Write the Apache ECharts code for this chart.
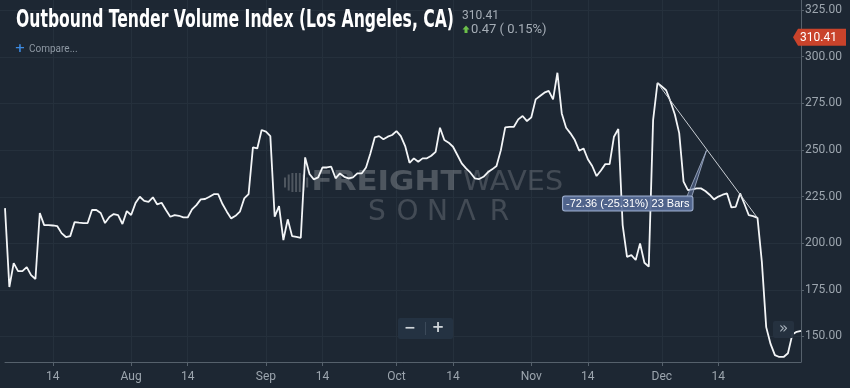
<!DOCTYPE html>
<html><head><meta charset="utf-8">
<script src="https://cdn.jsdelivr.net/npm/echarts@6/dist/echarts.min.js"></script>
<style>html,body{margin:0;padding:0;background:#1d2733;}#c{width:850px;height:388px;}</style>
</head><body><div id="c"></div>
<script>
// ---------- data ----------
const startDate = '2018-07-03';
const monthNames = ['Jan','Feb','Mar','Apr','May','Jun','Jul','Aug','Sep','Oct','Nov','Dec'];
const yTicks = [150, 175, 200, 225, 250, 275, 300, 325];
const values = [
  218.8, 176.5, 189.3, 185, 185, 187.2, 182.9, 180.8, 216.2, 209.7,
  209.7, 209.5, 209.2, 205.4, 203.3, 203.8, 211.3, 211, 210.8, 210.8,
  217.8, 217.8, 216.2, 210.8, 214, 215.6, 215.1, 210.3, 217.2, 215.1,
  221.5, 224.9, 222.7, 222.2, 224.6, 220.8, 221.7, 217.8, 214.2, 215.1,
  214.7, 213.8, 213.8, 218.1, 220.4, 223.5, 223.7, 224.9, 226.3, 226.3,
  221, 216.9, 213.3, 214.7, 216.9, 224, 226.3, 251.4, 250.8, 260.7,
  259.8, 257.4, 214.2, 219.9, 201.7, 212.8, 203.8, 203.4, 202.9, 246,
  237.1, 234.2, 235.3, 240.6, 240.6, 241, 234.8, 237.4, 235.6, 234.8,
  235.3, 237.4, 237.4, 240.6, 248.1, 256.7, 257.4, 255.7, 257.1, 258,
  260.1, 257.4, 252.1, 243.1, 245.5, 243.7, 245.5, 245.5, 246.9, 249,
  261.9, 255.3, 253.9, 251.7, 247.3, 242.8, 240.1, 237.8, 234.8, 234.4,
  235.6, 238, 239.6, 241.4, 249.9, 262.1, 262.4, 262.4, 266.4, 268.2,
  265.5, 267.5, 277.1, 278.9, 280.7, 281.7, 277.1, 291.4, 269.6, 261.9,
  258.9, 255.3, 249.6, 250.8, 245, 241.4, 236, 239, 242.4, 242.4,
  257.1, 261.2, 209.7, 192.7, 193.6, 191, 199.9, 189.5, 187.4, 266,
  285.9, 284, 282, 276, 269, 259, 233, 228.5, 228.9, 229.4,
  229.4, 228, 226, 223.5, 225, 226, 226.7, 219.2, 219.5, 226.7,
  221, 215, 214.5, 213.54, 190, 155, 146, 140, 139, 139,
  141, 151, 152.5, 153
];
const trendStart = 150, trendEnd = 173;
const lastPrice = 310.41;
const titleText = 'Outbound Tender Volume Index (Los Angeles, CA)';
const priceText = '310.41';
const changeText = '0.47 ( 0.15%)';
const compareText = 'Compare...';

// ---------- categories ----------
const dates = [];
const d0 = new Date(startDate + 'T00:00:00Z');
for (let i = 0; i < values.length; i++) {
  dates.push(new Date(d0.getTime() + i * 86400000).toISOString().slice(0, 10));
}
function dayOf(v) { return new Date(v + 'T00:00:00Z').getUTCDate(); }
function isTick(idx, v) { const d = dayOf(v); return (d === 1 || d === 14) && idx < values.length - 3; }
function fmtDate(v) {
  const dt = new Date(v + 'T00:00:00Z');
  return dt.getUTCDate() === 1 ? monthNames[dt.getUTCMonth()] : String(dt.getUTCDate());
}

const chart = echarts.init(document.getElementById('c'), null, {renderer: 'canvas', width: 850, height: 388});
const G = {left: 5, right: 49, top: 0, bottom: 26};
const axisColor = '#56616c';
const labelColor = '#9ca5ae';

chart.setOption({
  backgroundColor: '#1d2733',
  animation: false,
  grid: {left: G.left, right: G.right, top: G.top, bottom: G.bottom, containLabel: false, outerBoundsMode: 'none'},
  xAxis: {
    type: 'category', data: dates, boundaryGap: false,
    axisLine: {show: true, lineStyle: {color: axisColor, width: 1}},
    axisTick: {show: true, interval: isTick, length: 4, lineStyle: {color: axisColor}},
    axisLabel: {interval: isTick, formatter: fmtDate, color: labelColor, fontSize: 12,
      fontFamily: '"Liberation Sans Narrow", Roboto, sans-serif', margin: 9},
    splitLine: {show: true, interval: isTick, lineStyle: {color: '#25303c', width: 1}}
  },
  yAxis: {
    type: 'value', position: 'right', min: 136.3, max: 330.4,
    axisLine: {show: true, lineStyle: {color: axisColor, width: 1}},
    axisTick: {show: true, customValues: yTicks, length: 3, lineStyle: {color: axisColor}},
    axisLabel: {customValues: yTicks, formatter: v => v.toFixed(2), color: labelColor,
      fontSize: 12, fontFamily: 'Roboto, sans-serif', margin: 4},
    splitLine: {show: false}
  },
  series: [{
    type: 'line', data: values, showSymbol: false, symbol: 'none', z: 3,
    lineStyle: {color: '#f3f5f7', width: 1.8},
    markLine: {
      silent: true, symbol: 'none', animation: false,
      label: {show: false},
      lineStyle: {color: '#c9ced4', width: 1, type: 'solid'},
      data: [[{coord: [trendStart, values[trendStart]]}, {coord: [trendEnd, values[trendEnd]]}]]
    }
  }]
});

// ---------- overlays positioned through the chart's scales ----------
const px = (i, v) => chart.convertToPixel({xAxisIndex: 0, yAxisIndex: 0}, [i, v]);
const W = chart.getWidth();
const rightX = W - G.right;
const g = [];

// horizontal grid lines
yTicks.forEach(t => {
  const y = Math.round(px(0, t)[1]) + 0.5;
  g.push({type: 'line', z: 0, silent: true, shape: {x1: 0, y1: y, x2: rightX, y2: y},
    style: {stroke: '#25303c', lineWidth: 1}});
});

// text measuring helper
const mctx = document.createElement('canvas').getContext('2d');
function measure(text, font) { mctx.font = font; return mctx.measureText(text).width; }

// watermark
const wmBold = 'rgba(255,255,255,0.22)';
const wmThin = 'rgba(255,255,255,0.17)';
const barH = [10, 16, 19, 19, 19, 16, 10];
barH.forEach((h, i) => {
  g.push({type: 'rect', z: 0, silent: true,
    shape: {x: 284 + i * 3.7, y: 182.5 - h / 2, width: 2, height: h},
    style: {fill: wmBold}});
});
const fFont = 'bold 27px "DejaVu Sans"';
const fW = measure('FREIGHT', fFont);
g.push({type: 'text', z: 0, silent: true, x: 311.5, y: 183, scaleX: 150 / fW,
  style: {text: 'FREIGHT', font: fFont, fill: wmBold, verticalAlign: 'middle', align: 'left'}});
const wFont = '27px "DejaVu Sans ExtraLight", "DejaVu Sans"';
const wW = measure('WAVES', wFont);
g.push({type: 'text', z: 0, silent: true, x: 463, y: 183, scaleX: 100 / wW,
  style: {text: 'WAVES', font: wFont, fill: wmThin, verticalAlign: 'middle', align: 'left'}});
const sonar = [['S', 377], ['O', 407.5], ['N', 437.5], ['\u039B', 466], ['R', 499.5]];
sonar.forEach(([ch, cx]) => {
  g.push({type: 'text', z: 0, silent: true, x: cx, y: 212.5,
    style: {text: ch, font: '28px "DejaVu Sans ExtraLight", "DejaVu Sans"', fill: wmThin,
      align: 'center', verticalAlign: 'middle'}});
});

// header
const tFont = 'bold 25px "Liberation Sans Narrow", "DejaVu Sans Condensed", sans-serif';
const tW = measure(titleText, tFont);
g.push({type: 'text', z: 5, silent: true, x: 16, y: 20, scaleX: 438 / tW,
  style: {text: titleText, font: tFont, fill: '#ffffff', verticalAlign: 'middle'}});
g.push({type: 'text', z: 5, silent: true, x: 462, y: 16,
  style: {text: priceText, font: '12px Roboto', fill: '#a5adb6', verticalAlign: 'middle'}});
g.push({type: 'polygon', z: 5, silent: true,
  shape: {points: [[466, 25.5], [469.5, 29.5], [467.5, 29.5], [467.5, 33], [464.5, 33], [464.5, 29.5], [462.5, 29.5]]},
  style: {fill: '#6cc04a'}});
g.push({type: 'text', z: 5, silent: true, x: 471, y: 30,
  style: {text: changeText, font: '13px Roboto', fill: '#a5adb6', verticalAlign: 'middle'}});
g.push({type: 'text', z: 5, silent: true, x: 20, y: 48.5,
  style: {text: '+', font: 'bold 13px "DejaVu Sans"', fill: '#3d8ae0', align: 'center', verticalAlign: 'middle'}});
g.push({type: 'text', z: 5, silent: true, x: 29, y: 49,
  style: {text: compareText, font: '10px Roboto', fill: '#8e98a3', verticalAlign: 'middle'}});

// trend annotation callout
const pA = px(trendStart, values[trendStart]);
const pB = px(trendEnd, values[trendEnd]);
const mid = [(pA[0] + pB[0]) / 2, (pA[1] + pB[1]) / 2];
const diff = values[trendEnd] - values[trendStart];
const pct = diff / values[trendStart] * 100;
const callText = diff.toFixed(2) + ' (' + pct.toFixed(2) + '%) ' + (trendEnd - trendStart) + ' Bars';
const boxRight = mid[0] - 15, boxTop = mid[1] + 46;
g.push({type: 'polygon', z: 20, silent: true,
  shape: {points: [[mid[0] - 1, mid[1]], [boxRight - 6, boxTop + 1], [boxRight - 1, boxTop + 1]]},
  style: {fill: 'rgba(95,115,158,0.55)', stroke: '#a9b6cf', lineWidth: 0.8}});
g.push({type: 'text', z: 21, silent: true, x: boxRight, y: boxTop,
  style: {text: callText, font: '11px "Liberation Sans", Arial', fill: '#ffffff',
    align: 'right', verticalAlign: 'top',
    backgroundColor: 'rgba(84,104,146,0.92)', borderColor: '#9fb0cf', borderWidth: 1,
    borderRadius: 2, padding: [2, 3, 1, 3]}});

// last price tag on the right axis
const ly = px(0, lastPrice)[1];
g.push({type: 'polygon', z: 20, silent: true,
  shape: {points: [[rightX - 8, ly], [rightX - 3, ly - 8.5], [W - 4, ly - 8.5], [W - 4, ly + 8.5], [rightX - 3, ly + 8.5]]},
  style: {fill: '#c9432b'}});
g.push({type: 'text', z: 21, silent: true, x: rightX - 1, y: ly + 0.5,
  style: {text: lastPrice.toFixed(2), font: '12px Roboto', fill: '#ffffff', verticalAlign: 'middle'}});

// zoom buttons
g.push({type: 'rect', z: 20, silent: true, shape: {x: 398, y: 318, width: 55, height: 21, r: 2},
  style: {fill: '#243242'}});
g.push({type: 'line', z: 21, silent: true, shape: {x1: 425.5, y1: 322, x2: 425.5, y2: 335},
  style: {stroke: '#3c4a5a', lineWidth: 1}});
g.push({type: 'text', z: 21, silent: true, x: 410, y: 328.5,
  style: {text: '\u2212', font: 'bold 14px "DejaVu Sans"', fill: '#d0d5da', align: 'center', verticalAlign: 'middle'}});
g.push({type: 'text', z: 21, silent: true, x: 438, y: 328.5,
  style: {text: '+', font: 'bold 15px "DejaVu Sans"', fill: '#d0d5da', align: 'center', verticalAlign: 'middle'}});
g.push({type: 'rect', z: 20, silent: true, shape: {x: 773, y: 321, width: 21, height: 17, r: 2},
  style: {fill: 'rgba(38,50,64,0.95)'}});
g.push({type: 'text', z: 21, silent: true, x: 783.5, y: 329,
  style: {text: '\u00BB', font: '15px "DejaVu Sans"', fill: '#a9b3bd', align: 'center', verticalAlign: 'middle'}});

chart.setOption({graphic: {elements: g}});
</script>
</body></html>
